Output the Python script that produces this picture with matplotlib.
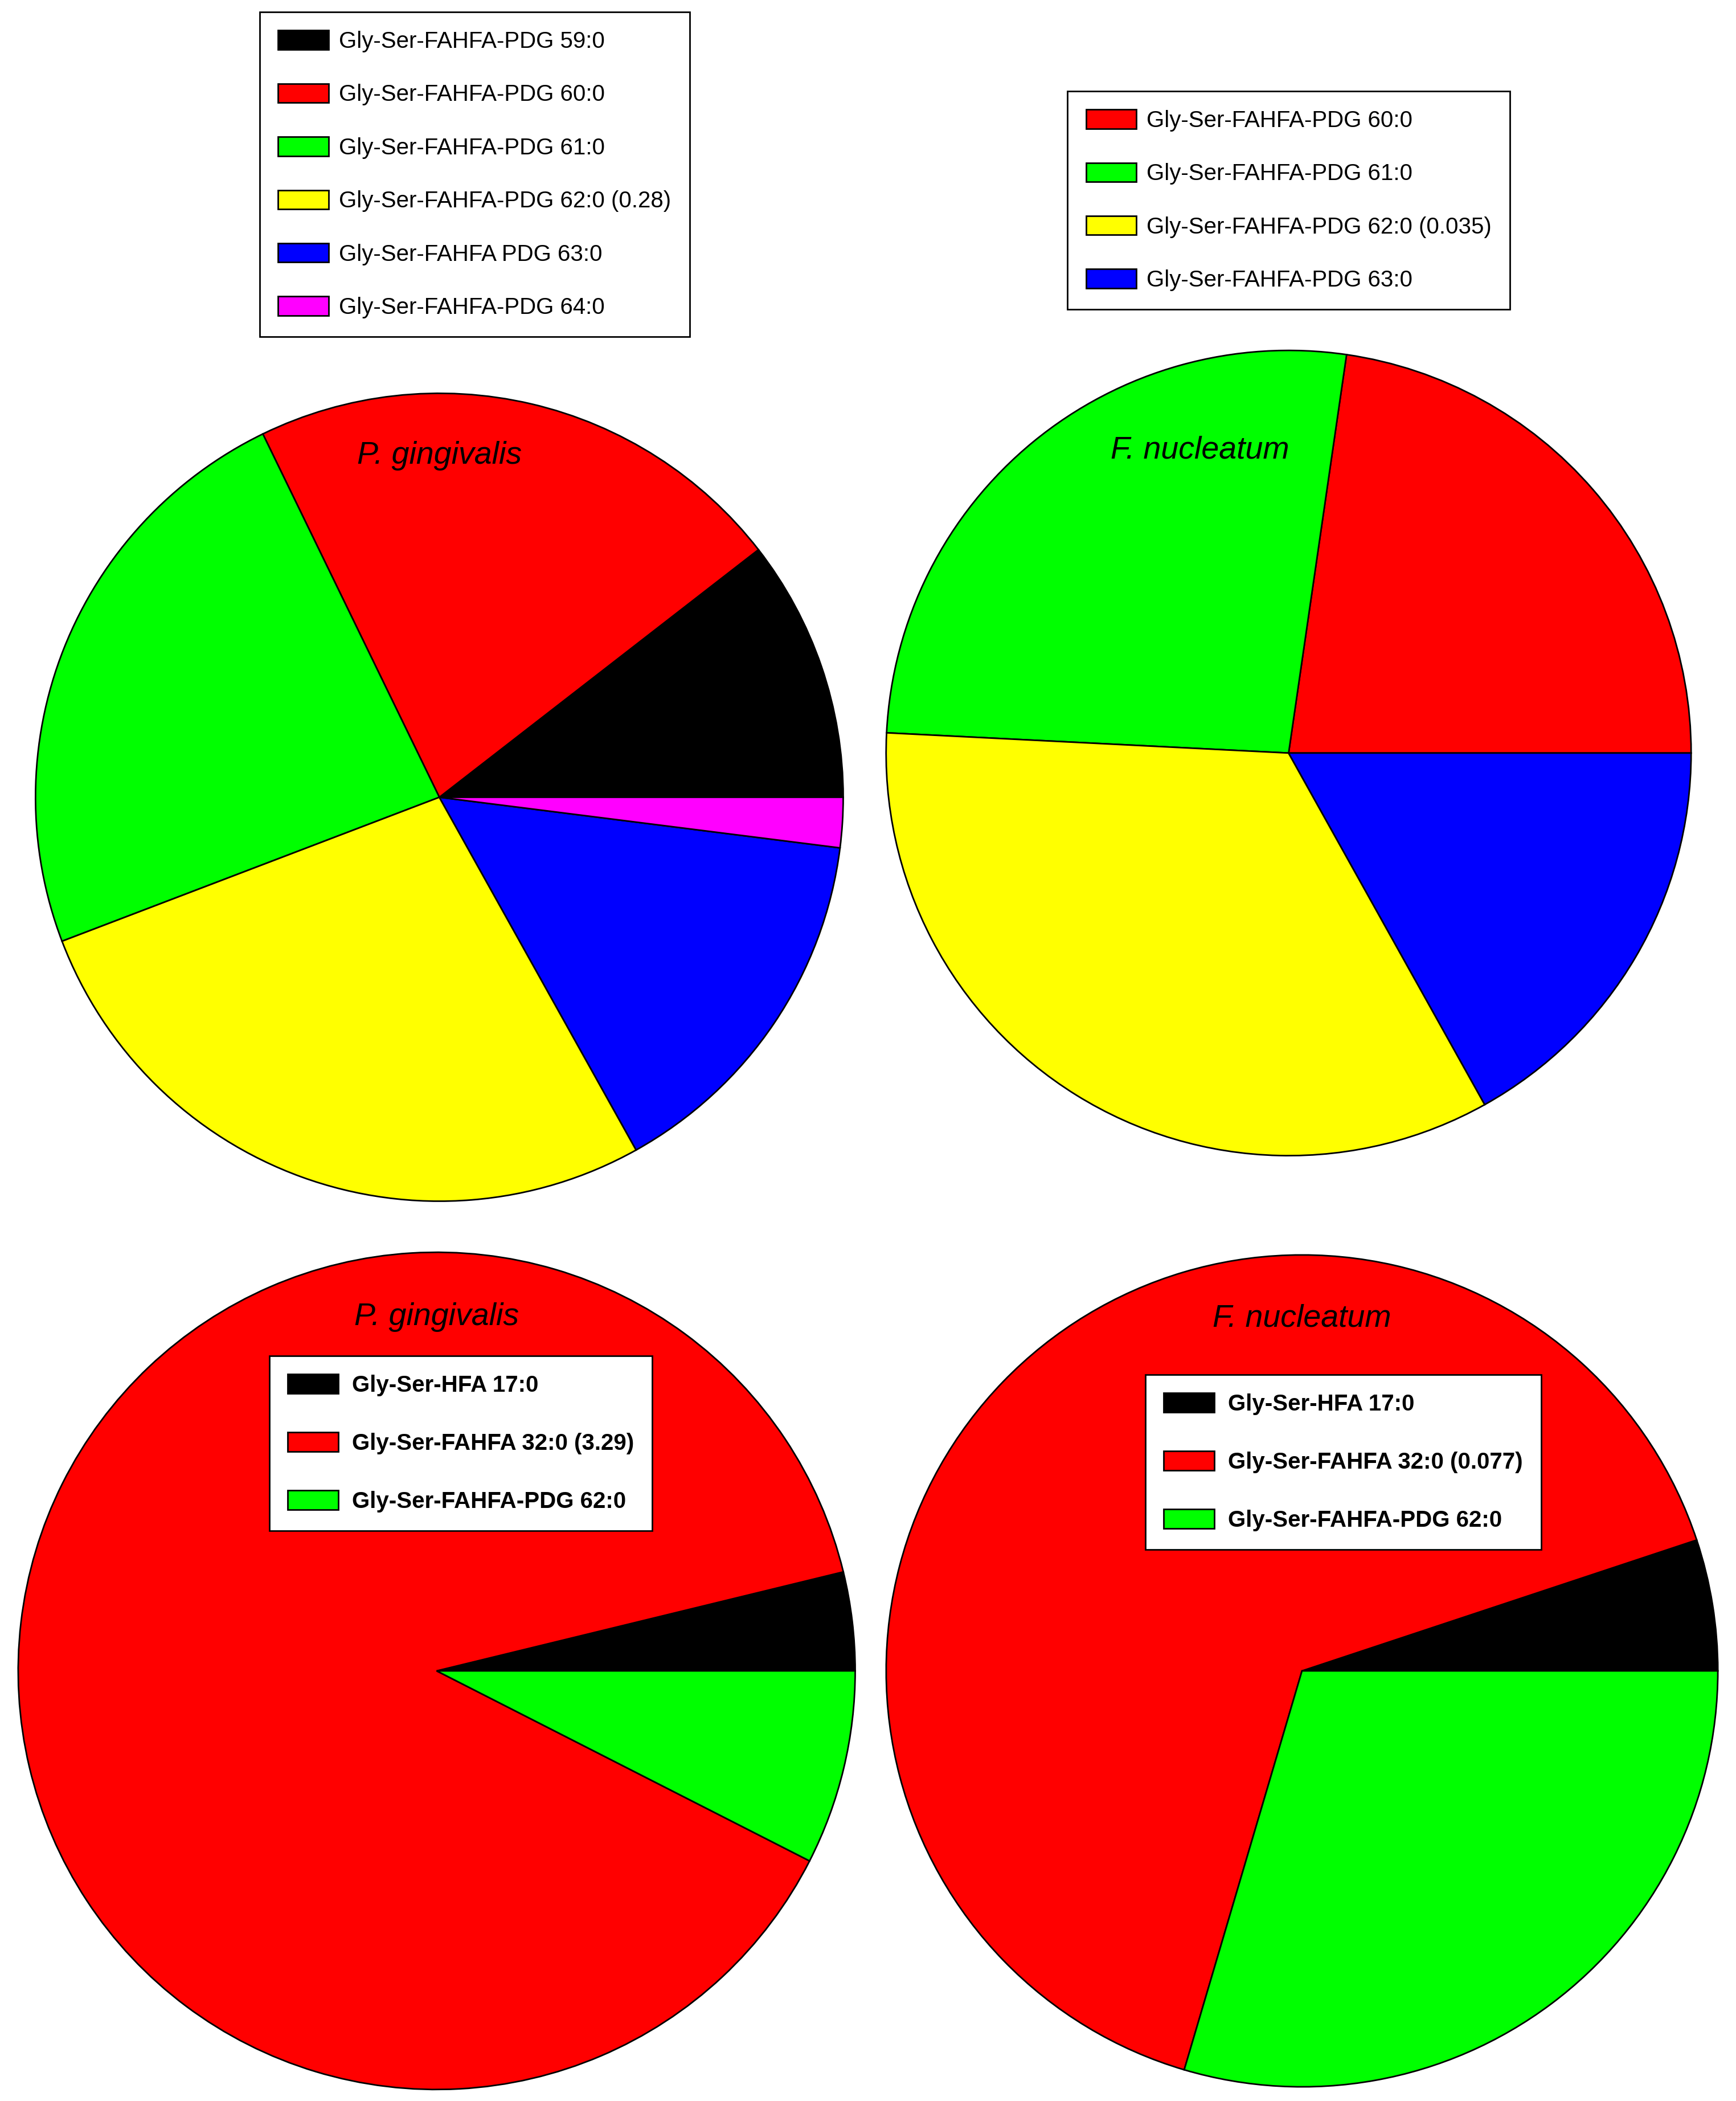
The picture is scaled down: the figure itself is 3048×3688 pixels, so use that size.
# -*- coding: utf-8 -*-
import matplotlib
matplotlib.use("Agg")
import matplotlib.pyplot as plt

plt.rcParams['font.family'] = ['Liberation Sans', 'DejaVu Sans']

# top row: Gly-Ser-FAHFA-PDG species
pg_pdg_labels = ["Gly-Ser-FAHFA-PDG 59:0", "Gly-Ser-FAHFA-PDG 60:0", "Gly-Ser-FAHFA-PDG 61:0",
                 "Gly-Ser-FAHFA-PDG 62:0 (0.28)", "Gly-Ser-FAHFA PDG 63:0", "Gly-Ser-FAHFA-PDG 64:0"]
pg_pdg_values = [10.5, 21.7, 23.6, 27.3, 14.9, 2.0]
pg_pdg_colors = ["#000000", "#ff0000", "#00ff00", "#ffff00", "#0000ff", "#ff00ff"]

fn_pdg_labels = ["Gly-Ser-FAHFA-PDG 60:0", "Gly-Ser-FAHFA-PDG 61:0",
                 "Gly-Ser-FAHFA-PDG 62:0 (0.035)", "Gly-Ser-FAHFA-PDG 63:0"]
fn_pdg_values = [22.7, 26.5, 33.9, 16.9]
fn_pdg_colors = ["#ff0000", "#00ff00", "#ffff00", "#0000ff"]

# bottom row: HFA / FAHFA / PDG
pg_cls_labels = ["Gly-Ser-HFA 17:0", "Gly-Ser-FAHFA 32:0 (3.29)", "Gly-Ser-FAHFA-PDG 62:0"]
pg_cls_values = [3.8, 88.7, 7.5]
fn_cls_labels = ["Gly-Ser-HFA 17:0", "Gly-Ser-FAHFA 32:0 (0.077)", "Gly-Ser-FAHFA-PDG 62:0"]
fn_cls_values = [5.1, 65.4, 29.6]
cls_colors = ["#000000", "#ff0000", "#00ff00"]

W, H = 1296.0, 1568.0  # layout measured on the shrunk picture

fig = plt.figure(figsize=(15.24, 18.44), dpi=200)

def pie_at(cx, cy, r, values, colors):
    ax = fig.add_axes([(cx - r) / W, 1 - (cy + r) / H, 2 * r / W, 2 * r / H])
    wedges, _ = ax.pie(values, colors=colors, startangle=0, counterclock=True,
                       wedgeprops=dict(edgecolor="black", linewidth=1.0))
    ax.set_xlim(-1.005, 1.005)
    ax.set_ylim(-1.005, 1.005)
    ax.axis("off")
    return wedges

def legend_at(wedges, labels, x, y, bold=False, spacing=1.36, textpad=0.45):
    leg = fig.legend(wedges, labels, loc="upper left", bbox_to_anchor=(x / W, 1 - y / H),
                     borderaxespad=0, fancybox=False, framealpha=1, edgecolor="black",
                     prop=dict(size=14.5, weight="bold" if bold else "normal"),
                     handlelength=2.2, handleheight=0.9, handletextpad=textpad,
                     labelspacing=spacing, borderpad=0.8)
    leg.get_frame().set_linewidth(1.0)
    for h in leg.legend_handles:
        h.set_edgecolor("black")
        h.set_linewidth(1.0)

w1 = pie_at(328, 595, 303, pg_pdg_values, pg_pdg_colors)
w2 = pie_at(962, 562, 302, fn_pdg_values, fn_pdg_colors)
w3 = pie_at(326, 1247, 314, pg_cls_values, cls_colors)
w4 = pie_at(972, 1247, 312, fn_cls_values, cls_colors)

legend_at(w1, pg_pdg_labels, 194, 9)
legend_at(w2, fn_pdg_labels, 797, 68)
legend_at(w3, pg_cls_labels, 201, 1012, bold=True, spacing=1.57, textpad=0.6)
legend_at(w4, fn_cls_labels, 855, 1026, bold=True, spacing=1.57, textpad=0.6)

for tx, ty, name in [(328, 340, "P. gingivalis"), (896, 336, "F. nucleatum"),
                     (326, 983, "P. gingivalis"), (972, 984, "F. nucleatum")]:
    fig.text(tx / W, 1 - ty / H, name, ha="center", va="center", fontsize=20, style="italic")

plt.savefig("out.png", dpi=200)
